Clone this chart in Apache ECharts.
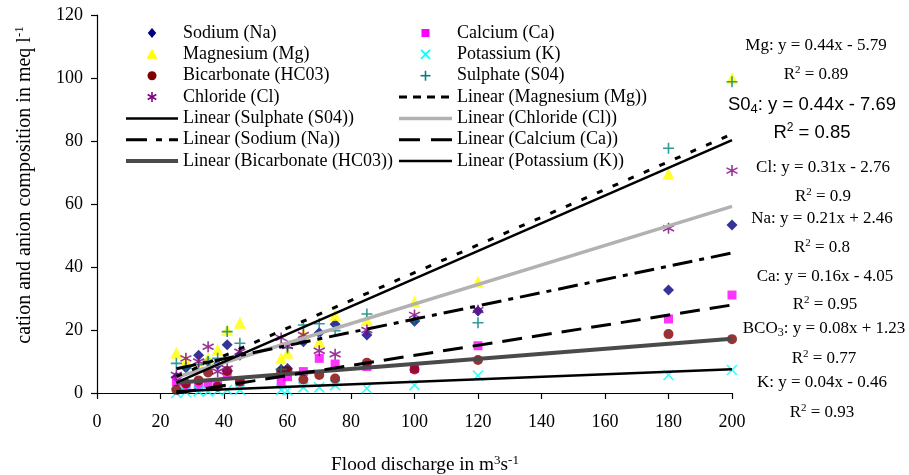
<!DOCTYPE html>
<html>
<head>
<meta charset="utf-8">
<script src="https://cdn.jsdelivr.net/npm/echarts@6/dist/echarts.min.js"></script>
<style>
  html, body { margin: 0; padding: 0; background: #fff; }
  #chart { width: 909px; height: 475px; }
</style>
</head>
<body>
<div id="chart"></div>
<script>
// Flood discharge (m3/s) of each sample
const discharge = [25, 28, 32, 35, 38, 41, 45, 58, 60, 65, 70, 75, 85, 100, 120, 180, 200];

// Ion concentrations (meq/l) for each sample
const sodium      = [5, 8, 12, 10, 9, 15.3, 12, 7.5, 7.8, 16.3, 19.1, 21.8, 18.4, 22.8, 26, 32.7, 53.3];
const magnesium   = [12.8, 10.5, 9, 11, 13.7, 20, 22.3, 11, 12.8, 18.9, 16.3, 24.8, 23.2, 29, 35.3, 69.7, 99.9];
const bicarbonate = [1, 3, 4, 6.5, 2, 7, 3.6, 6.8, 7, 4.3, 5.7, 4.6, 9.6, 7.5, 10.5, 18.7, 17.1];
const chloride    = [5.7, 11, 10, 14.7, 6.8, 7.8, 13.1, 17.5, 14.9, 18.4, 13.4, 12.3, 20, 24.8, 26.3, 52.3, 70.6];
const calcium     = [3.6, 2.3, 2, 3, 2.5, 5.7, 3.6, 3.6, 5.2, 6.8, 11, 9.2, 8.4, 7.8, 15, 23.5, 31.1];
const potassium   = [0, 0.3, 0.5, 0.5, 0.8, 1, 1, 1, 0.8, 1.8, 1.8, 2.5, 1.5, 2.5, 5.5, 5.7, 7.3];
const sulphate    = [9.4, 8, 9, 10, 11, 19.5, 15.8, 7.5, 14.3, 21.6, 22, 19.8, 25.1, 23, 22.3, 77.7, 98.8];

// Linear fits: y = slope * x + intercept
const fitLabels     = ['Mg', 'S04', 'Cl', 'Na', 'Ca', 'BCO3', 'K'];
const fitSlopes     = [0.44, 0.44, 0.31, 0.21, 0.16, 0.08, 0.04];
const fitIntercepts = [-5.79, -7.69, -2.76, 2.46, -4.05, 1.23, -0.46];
const fitR2         = ['0.89', '0.85', '0.9', '0.8', '0.95', '0.77', '0.93'];

// Legend entries, two columns
const legendLeft  = ['Sodium (Na)', 'Magnesium (Mg)', 'Bicarbonate (HC03)', 'Chloride (Cl)',
                     'Linear (Sulphate (S04))', 'Linear (Sodium (Na))', 'Linear (Bicarbonate (HC03))'];
const legendRight = ['Calcium (Ca)', 'Potassium (K)', 'Sulphate (S04)', 'Linear (Magnesium (Mg))',
                     'Linear (Chloride (Cl))', 'Linear (Calcium (Ca))', 'Linear (Potassium (K))'];

const xTicks = { min: 0, max: 200, step: 20 };
const yTicks = { min: 0, max: 120, step: 20 };

const SERIF = 'Liberation Serif';
const SANS = 'Liberation Sans';

// Marker looks of the measured ions
const markers = {
  'Sodium (Na)':        { data: sodium,      kind: 'diamond',  size: 11, color: '#000080' },
  'Calcium (Ca)':       { data: calcium,     kind: 'rect',     size: 9,  color: '#FF00FF' },
  'Magnesium (Mg)':     { data: magnesium,   kind: 'triangle', size: 12, color: '#FFFF00' },
  'Potassium (K)':      { data: potassium,   kind: 'cross',    size: 10, color: '#00FFFF' },
  'Bicarbonate (HC03)': { data: bicarbonate, kind: 'circle',   size: 10, color: '#800000' },
  'Sulphate (S04)':     { data: sulphate,    kind: 'plus',     size: 11, color: '#008080' },
  'Chloride (Cl)':      { data: chloride,    kind: 'asterisk', size: 11, color: '#800080' }
};

// Trend line looks (fit index into the fit arrays)
const trends = {
  'Linear (Chloride (Cl))':      { fit: 2, color: '#B2B2B2', width: 3.5, dash: null,          legendDash: null },
  'Linear (Bicarbonate (HC03))': { fit: 5, color: '#4A4A4A', width: 4,   dash: null,          legendDash: null },
  'Linear (Calcium (Ca))':       { fit: 4, color: '#000000', width: 3,   dash: [20, 10],      legendDash: [21, 11] },
  'Linear (Sodium (Na))':        { fit: 3, color: '#000000', width: 3,   dash: [20, 7, 5, 7], legendDash: [21, 9, 6, 7] },
  'Linear (Potassium (K))':      { fit: 6, color: '#000000', width: 2.5, dash: null,          legendDash: null },
  'Linear (Sulphate (S04))':     { fit: 1, color: '#000000', width: 2.5, dash: null,          legendDash: null },
  'Linear (Magnesium (Mg))':     { fit: 0, color: '#000000', width: 3,   dash: [6, 11],       legendDash: [8, 6] }
};

const SYMBOL_PATHS = {
  asterisk: 'path://M5,0L5,10M0.7,2.5L9.3,7.5M0.7,7.5L9.3,2.5',
  cross: 'path://M0,0L10,10M0,10L10,0',
  plus: 'path://M5,0L5,10M0,5L10,5'
};
const STROKED = { asterisk: true, cross: true, plus: true };

const pairs = (ys) => discharge.map((x, i) => [x, ys[i]]);
const xLo = Math.min(...discharge), xHi = Math.max(...discharge);
const fitLine = (k) => [
  [xLo, fitSlopes[k] * xLo + fitIntercepts[k]],
  [xHi, fitSlopes[k] * xHi + fitIntercepts[k]]
];

const series = [];
Object.keys(markers).forEach((name) => {
  const m = markers[name];
  const stroked = !!STROKED[m.kind];
  series.push({
    name, type: 'scatter', data: pairs(m.data),
    symbol: stroked ? SYMBOL_PATHS[m.kind] : m.kind,
    symbolSize: m.size, z: 2,
    itemStyle: stroked
      ? { color: 'rgba(0,0,0,0)', borderColor: m.color, borderWidth: 1.6 }
      : { color: m.color, borderWidth: 0 },
    emphasis: { disabled: true }
  });
});
Object.keys(trends).forEach((name) => {
  const t = trends[name];
  series.push({
    name, type: 'line', data: fitLine(t.fit), showSymbol: false, symbol: 'none', z: 5,
    lineStyle: { color: t.color, width: t.width, type: t.dash || 'solid', cap: 'butt' },
    emphasis: { disabled: true }
  });
});

// Rich text styles
const rich = (family, size, lh) => ({
  t: { fontFamily: family, fontSize: size, color: '#000', lineHeight: lh },
  sup: { fontFamily: family, fontSize: Math.round(size * 0.65), color: '#000', verticalAlign: 'top', lineHeight: lh },
  sub: { fontFamily: family, fontSize: Math.round(size * 0.7), color: '#000', verticalAlign: 'bottom', lineHeight: lh - 1 }
});
const richSerif = rich(SERIF, 17, 20);
const richSans = rich(SANS, 18.5, 22);
const richLegend = rich(SERIF, 18, 21);
const richXTitle = rich(SERIF, 19.3, 22);
const richYTitle = rich(SERIF, 20, 23);
const richTick = rich(SERIF, 18, 20);

// ---- Legend drawn as graphic elements ----
function markerShape(kind, cx, cy, s, color) {
  const fill = { fill: color };
  const stroke = { stroke: color, lineWidth: 1.6, fill: null };
  const h = s / 2;
  switch (kind) {
    case 'diamond':
      return [{ type: 'polygon', shape: { points: [[cx, cy - h], [cx + h * 0.85, cy], [cx, cy + h], [cx - h * 0.85, cy]] }, style: fill }];
    case 'triangle':
      return [{ type: 'polygon', shape: { points: [[cx, cy - h], [cx + h, cy + h * 0.8], [cx - h, cy + h * 0.8]] }, style: fill }];
    case 'rect':
      return [{ type: 'rect', shape: { x: cx - h, y: cy - h, width: s, height: s }, style: fill }];
    case 'circle':
      return [{ type: 'circle', shape: { cx, cy, r: h }, style: fill }];
    case 'cross':
      return [
        { type: 'line', shape: { x1: cx - h, y1: cy - h, x2: cx + h, y2: cy + h }, style: stroke },
        { type: 'line', shape: { x1: cx - h, y1: cy + h, x2: cx + h, y2: cy - h }, style: stroke }
      ];
    case 'plus':
      return [
        { type: 'line', shape: { x1: cx, y1: cy - h, x2: cx, y2: cy + h }, style: stroke },
        { type: 'line', shape: { x1: cx - h, y1: cy, x2: cx + h, y2: cy }, style: stroke }
      ];
    case 'asterisk':
      return [
        { type: 'line', shape: { x1: cx, y1: cy - h, x2: cx, y2: cy + h }, style: stroke },
        { type: 'line', shape: { x1: cx - h * 0.86, y1: cy - h * 0.5, x2: cx + h * 0.86, y2: cy + h * 0.5 }, style: stroke },
        { type: 'line', shape: { x1: cx - h * 0.86, y1: cy + h * 0.5, x2: cx + h * 0.86, y2: cy - h * 0.5 }, style: stroke }
      ];
  }
  return [];
}

const graphics = [];
const legendRowY0 = 33, legendRowStep = 21.35;
[[legendLeft, 126, 178, 183], [legendRight, 399, 452, 457]].forEach(([names, x0, x1, tx]) => {
  names.forEach((name, i) => {
    const y = legendRowY0 + i * legendRowStep;
    const children = [];
    if (markers[name]) {
      const m = markers[name];
      children.push(...markerShape(m.kind, (x0 + x1) / 2, y, m.size - 1, m.color));
    } else {
      const t = trends[name];
      children.push({
        type: 'line', shape: { x1: x0, y1: y, x2: x1, y2: y },
        style: { stroke: t.color, lineWidth: t.width, lineDash: t.legendDash || null, lineCap: 'butt' }
      });
    }
    children.push({
      type: 'text', x: tx, y: y,
      style: { text: '{t|' + name + '}', rich: richLegend, align: 'left', verticalAlign: 'middle' }
    });
    graphics.push({ type: 'group', z: 20, children });
  });
});

// ---- Fit equation labels at the right of the plot ----
const eqY = [46, 105, 168, 219, 277, 329, 383];
const r2Y = [75, 133, 197, 248, 305, 359, 413];
const eqX = [816, 812, 823, 822, 825, 824, 822];
const fmt = (v) => (v < 0 ? ' - ' : ' + ') + Math.abs(v).toFixed(2);

fitLabels.forEach((lab, k) => {
  const sans = lab === 'S04';
  let head;
  if (lab === 'S04') head = '{t|S0}{sub|4}{t|:';
  else if (lab === 'BCO3') head = '{t|BCO}{sub|3}{t|:';
  else head = '{t|' + lab + ':';
  const eq = head + ' y = ' + fitSlopes[k].toFixed(2) + 'x' + fmt(fitIntercepts[k]) + '}';
  graphics.push({
    type: 'text', x: eqX[k], y: eqY[k], z: 10,
    style: { text: eq, rich: sans ? richSans : richSerif, align: 'center', verticalAlign: 'middle' }
  });
  graphics.push({
    type: 'text', x: eqX[k], y: r2Y[k], z: 10,
    style: { text: '{t|R}{sup|2}{t| = ' + fitR2[k] + '}', rich: sans ? richSans : richSerif, align: 'center', verticalAlign: 'middle' }
  });
});

// ---- Axis titles ----
graphics.push({
  type: 'text', x: 25, y: 185, rotation: Math.PI / 2, z: 10,
  style: { text: '{t|cation and anion composition in meq l}{sup|-1}', rich: richYTitle, align: 'center', verticalAlign: 'middle' }
});
graphics.push({
  type: 'text', x: 425, y: 465, z: 10,
  style: { text: '{t|Flood discharge in m}{sup|3}{t|s}{sup|-1}', rich: richXTitle, align: 'center', verticalAlign: 'middle' }
});

const axisCommon = {
  type: 'value',
  splitLine: { show: false },
  axisLine: { show: true, onZero: false, lineStyle: { color: '#000', width: 1.2 } },
  axisTick: { show: true, inside: false, length: 6, lineStyle: { color: '#000', width: 1.2 } },
  axisLabel: { formatter: (v) => '{t|' + v + '}', rich: richTick }
};

const chart = echarts.init(document.getElementById('chart'), null, { renderer: 'canvas' });
chart.setOption({
  animation: false,
  backgroundColor: '#fff',
  grid: { left: 97, right: 177, top: 15, bottom: 82, containLabel: false },
  xAxis: Object.assign({}, axisCommon, {
    min: xTicks.min, max: xTicks.max, interval: xTicks.step,
    axisLabel: Object.assign({}, axisCommon.axisLabel, { margin: 19 })
  }),
  yAxis: Object.assign({}, axisCommon, {
    min: yTicks.min, max: yTicks.max, interval: yTicks.step,
    axisLabel: Object.assign({}, axisCommon.axisLabel, { margin: 14 })
  }),
  graphic: graphics,
  series
});
</script>
</body>
</html>
